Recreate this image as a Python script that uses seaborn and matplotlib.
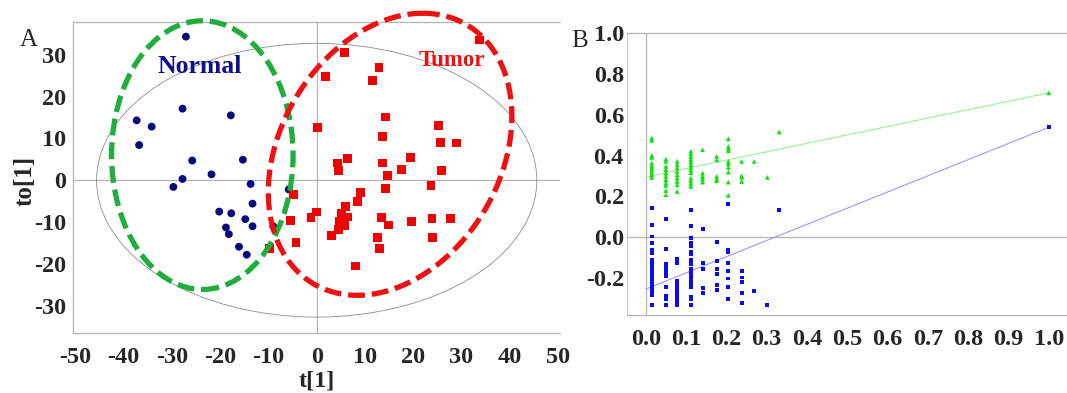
import numpy as np
import pandas as pd
import matplotlib
matplotlib.use("Agg")
import matplotlib.pyplot as plt
from matplotlib.patches import Ellipse
import seaborn as sns

sns.set_style("white")
plt.rcParams['font.family'] = ['Liberation Serif', 'DejaVu Serif']

# ---- panel A: OPLS-DA scores ----
normal_t = [-27.1, -27.8, -37.3, -34.2, -36.8, -17.8, -25.8, -15.3, -21.8, -27.8,
            -29.7, -13.7, -5.8, -13.3, -20.2, -17.7, -14.8, -13.3, -18.8, -18.2,
            -16.1, -14.5, -9.0]
normal_to = [34.3, 17.1, 14.3, 12.8, 8.4, 15.5, 4.7, 4.9, 1.4, 0.3,
             -1.6, -0.9, -2.2, -5.6, -7.5, -7.9, -9.3, -11.0, -11.3, -12.9,
             -15.9, -17.8, -11.0]
tumor_t = [33.8, 5.7, 12.9, 1.8, 11.6, 14.3, 0.1, 25.2, 13.6, 25.7,
           29.0, 6.4, 19.5, 4.3, 4.5, 13.7, 17.5, 25.9, 14.7, 23.7,
           14.2, 9.0, -4.8, 8.4, 5.9, -0.1, -1.2, 5.2, 6.5, 4.8,
           5.7, 4.5, 3.1, 13.4, 14.9, 19.7, 23.9, 27.7, 12.6, 24.0,
           13.0, 8.1, -5.5, -4.3, -9.8]
tumor_to = [33.5, 30.5, 27.0, 24.8, 23.8, 15.1, 12.6, 13.1, 10.5, 9.0,
            8.9, 5.1, 5.4, 4.1, 2.3, 4.1, 2.5, 2.3, 1.2, -1.2,
            -1.9, -3.0, -3.4, -5.0, -6.2, -7.6, -9.0, -8.0, -8.8, -9.8,
            -10.8, -11.7, -13.3, -9.0, -10.7, -9.8, -9.1, -9.2, -13.6, -13.6,
            -16.3, -20.5, -9.6, -14.9, -16.3]

# ---- panel B: permutation test ----
perm_x = [0.015, 0.050, 0.078, 0.112, 0.141, 0.176, 0.205, 0.238, 0.269, 0.302, 0.331, 1.0]
r2_vals = [
    [0.486, 0.475, 0.401, 0.391, 0.364, 0.352, 0.342, 0.331, 0.319, 0.306, 0.293],
    [0.383, 0.372, 0.347, 0.331, 0.314, 0.298, 0.282, 0.265, 0.254, 0.229, 0.208],
    [0.372, 0.355, 0.339, 0.322, 0.306, 0.290, 0.273, 0.257, 0.224],
    [0.421, 0.408, 0.395, 0.381, 0.368, 0.355, 0.342, 0.329, 0.316, 0.290, 0.277, 0.264, 0.249],
    [0.429, 0.314, 0.298, 0.285, 0.270],
    [0.396, 0.380, 0.298, 0.285, 0.277],
    [0.483, 0.445, 0.434, 0.424, 0.372, 0.360, 0.342, 0.319, 0.270, 0.205],
    [0.372, 0.301, 0.293, 0.273],
    [0.372],
    [0.293],
    [0.516],
    [0.708],
]
q2_vals = [
    [0.142, 0.060, 0.003, -0.030, -0.062, -0.076, -0.112, -0.128, -0.144, -0.161,
     -0.180, -0.202, -0.218, -0.234, -0.246, -0.259, -0.272, -0.285, -0.334],
    [0.088, -0.059, -0.131, -0.144, -0.156, -0.167, -0.179, -0.193, -0.243, -0.287,
     -0.305, -0.334],
    [-0.108, -0.128, -0.213, -0.226, -0.239, -0.253, -0.267, -0.288, -0.303, -0.318, -0.334],
    [0.131, 0.056, -0.005, -0.030, -0.046, -0.071, -0.082, -0.112, -0.131, -0.157,
     -0.174, -0.190, -0.206, -0.223, -0.246, -0.295, -0.305, -0.334],
    [0.039, -0.128, -0.156, -0.251, -0.275],
    [-0.026, -0.115, -0.157, -0.180, -0.234, -0.259],
    [0.164, -0.062, -0.074, -0.128, -0.166, -0.203, -0.246, -0.302],
    [-0.167, -0.198, -0.218, -0.272, -0.321],
    [-0.265],
    [-0.334],
    [0.133],
    [0.539],
]
r2_intercept = 0.295
q2_intercept = -0.255

scores = pd.concat([
    pd.DataFrame({'t': normal_t, 'to': normal_to, 'group': 'Normal'}),
    pd.DataFrame({'t': tumor_t, 'to': tumor_to, 'group': 'Tumor'}),
])
perm = pd.concat([
    pd.DataFrame({'x': [x] * len(v), 'y': v, 'kind': kind})
    for vals, kind in [(r2_vals, 'R2'), (q2_vals, 'Q2')]
    for x, v in zip(perm_x, vals)
])

fig = plt.figure(figsize=(10.67, 3.93), dpi=100)
axA = fig.add_axes([0.0684, 0.1527, 0.4564, 0.7913])
axB = fig.add_axes([0.5874, 0.1985, 0.4126, 0.7168])

grey = '#b4b4b4'
tick_font = dict(fontsize=17.5, fontweight='bold')

# ---------------- A ----------------
axA.axhline(0, color=grey, lw=0.9, zorder=0)
axA.axvline(0, color=grey, lw=0.9, zorder=0)
axA.add_patch(Ellipse((0, 0), 91.2, 65.4, fill=False, ec='#8c8c8c', lw=0.6, zorder=1))

sns.scatterplot(data=scores[scores.group == 'Normal'], x='t', y='to', ax=axA,
                color='#08087e', marker='o', s=32, edgecolor='none', zorder=3, legend=False)
sns.scatterplot(data=scores[scores.group == 'Tumor'], x='t', y='to', ax=axA,
                color='#f00000', marker='s', s=40, edgecolor='none', zorder=3, legend=False)

# group ellipses drawn by hand
axA.add_patch(Ellipse((-23.7, 6.0), 37.6, 64.2, fill=False, ec='#1fae3c', lw=3.8,
                      ls=(0, (3.2, 1.3)), clip_on=False, zorder=4))
tt = np.linspace(0, 2 * np.pi, 400)
ex = 15.2 + 6.8 * np.cos(tt) + 24.3 * np.sin(tt)
ey = 6.2 + 33.7 * np.cos(tt)
axA.plot(ex, ey, color='#f01010', lw=3.8, ls=(0, (3.2, 1.3)), clip_on=False, zorder=4)

axA.text(-24.2, 27.1, 'Normal', color='#10108a', fontsize=18.5, fontweight='bold',
         ha='center', va='center')
axA.text(28.0, 28.6, 'Tumor', color='#f01010', fontsize=16.5, fontweight='bold',
         ha='center', va='center')

axA.set_xlim(-50.5, 50.4)
axA.set_ylim(-36.5, 37.8)
axA.set_xticks(range(-50, 51, 10))
axA.set_yticks(range(-30, 31, 10))
axA.set_xticks(range(-50, 51, 5), minor=True)
axA.set_yticks(range(-35, 36, 5), minor=True)
axA.set_xticklabels([str(v) for v in range(-50, 51, 10)], **tick_font)
axA.set_yticklabels([str(v) for v in range(-30, 31, 10)], **tick_font)
axA.tick_params(which='both', direction='in', length=3, color=grey, width=0.8)
axA.tick_params(axis='x', pad=10)
axA.tick_params(axis='y', pad=5)
axA.set_xlabel('t[1]', fontsize=17.5, fontweight='bold', va='center')
axA.xaxis.set_label_coords(0.5, -0.153)
axA.set_ylabel('to[1]', fontsize=18, fontweight='bold', va='center')
axA.yaxis.set_label_coords(-0.098, 0.49)
for side in ['left', 'bottom', 'top']:
    axA.spines[side].set_color(grey)
    axA.spines[side].set_linewidth(0.9)
axA.spines['right'].set_visible(False)

# ---------------- B ----------------
axB.axhline(0, color=grey, lw=0.9, zorder=0)
axB.axvline(0, color=grey, lw=0.9, zorder=0)
sns.lineplot(x=[0, perm_x[-1]], y=[r2_intercept, r2_vals[-1][0]], ax=axB,
             color='#9cf09c', lw=0.8, zorder=1)
sns.lineplot(x=[0, perm_x[-1]], y=[q2_intercept, q2_vals[-1][0]], ax=axB,
             color='#9a9aff', lw=0.8, zorder=1)
sns.scatterplot(data=perm[perm.kind == 'R2'], x='x', y='y', ax=axB,
                color='#10e010', marker='^', s=12, edgecolor='none', zorder=3, legend=False)
sns.scatterplot(data=perm[perm.kind == 'Q2'], x='x', y='y', ax=axB,
                color='#0a0af5', marker='s', s=8, edgecolor='none', zorder=3, legend=False)

axB.set_xlim(-0.047, 1.045)
axB.set_ylim(-0.382, 1.0)
xt = [round(v * 0.1, 1) for v in range(11)]
yt = [round(v * 0.2 - 0.2, 1) for v in range(7)]
axB.set_xticks(xt)
axB.set_yticks(yt)
axB.set_xticks([round(v * 0.05, 2) for v in range(21)], minor=True)
axB.set_yticks([round(v * 0.1 - 0.3, 1) for v in range(14)], minor=True)
axB.set_xticklabels([f'{v:.1f}' for v in xt], **tick_font)
axB.set_yticklabels([f'{v:.1f}' for v in yt], **tick_font)
axB.tick_params(which='both', direction='in', length=3, color=grey, width=0.8)
axB.tick_params(axis='x', pad=10)
axB.tick_params(axis='y', pad=2)
axB.set_xlabel('')
axB.set_ylabel('')
for side in ['left', 'bottom', 'top']:
    axB.spines[side].set_color(grey)
    axB.spines[side].set_linewidth(0.9)
axB.spines['left'].set_linewidth(0.5)
axB.spines['right'].set_visible(False)

fig.text(29 / 1067, 1 - 40 / 393, 'A', fontsize=18, ha='center', va='center')
fig.text(580 / 1067, 1 - 41 / 393, 'B', fontsize=18, ha='center', va='center')

fig.savefig('out.png', dpi=100)
